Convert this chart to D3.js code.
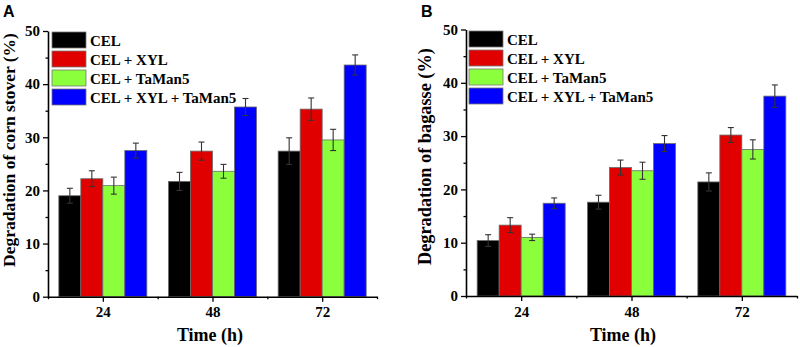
<!DOCTYPE html>
<html lang="en">
<head>
  <meta charset="UTF-8">
  <title>Degradation</title>
  <style>
    body { margin: 0; background: #fff; }
    text { font-family: "Liberation Serif", "Times New Roman", serif; font-weight: bold; }
  </style>
</head>
<body>
  <script src="https://d3js.org/d3.v7.min.js"></script>
  <div id="chart"></div>

  <script>
    // data =====================================================================
    const times = [24, 48, 72]
    const series = ['CEL', 'CEL + XYL', 'CEL + TaMan5', 'CEL + XYL + TaMan5']
    const colours = ['#000000', '#e00000', '#8cff3c', '#0000ff']

    // panel A - corn stover, values per series for 24/48/72 h
    const cornMean = [
      [19.0, 21.7, 27.4],
      [22.2, 27.4, 35.3],
      [20.9, 23.6, 29.5],
      [27.5, 35.7, 43.6]
    ]
    const cornErr = [
      [1.4, 1.7, 2.5],
      [1.5, 1.7, 2.1],
      [1.6, 1.3, 2.0],
      [1.4, 1.6, 1.9]
    ]

    // panel B - bagasse
    const bagMean = [
      [10.4, 17.6, 21.4],
      [13.3, 24.1, 30.2],
      [11.0, 23.5, 27.5],
      [17.4, 28.6, 37.5]
    ]
    const bagErr = [
      [1.1, 1.3, 1.7],
      [1.4, 1.4, 1.4],
      [0.6, 1.6, 1.8],
      [1.0, 1.5, 2.1]
    ]

    const yTicks = [0, 10, 20, 30, 40, 50]

    const svg = d3.select('#chart')
      .append('svg')
      .attr('width', 800)
      .attr('height', 347)

    function drawPanel(p) {
      const g = svg.append('g')

      const x = d3.scaleLinear().domain([12, 84]).range(p.xRange)
      const y = d3.scaleLinear().domain([0, 50]).range(p.yRange)
      const sub = d3.scaleBand().domain(series).range([-44, 44]).padding(0)

      // flatten into one row per bar
      const rows = []
      series.forEach((s, i) => {
        times.forEach((t, j) => {
          rows.push({s: s, i: i, t: t, v: p.mean[i][j], e: p.err[i][j]})
        })
      })

      // bars
      g.selectAll('rect.bar')
        .data(rows)
        .join('rect')
        .attr('class', 'bar')
        .attr('x', d => x(d.t) + sub(d.s))
        .attr('width', sub.bandwidth())
        .attr('y', d => y(d.v))
        .attr('height', d => y(0) - y(d.v))
        .style('fill', d => colours[d.i])
        .style('stroke', '#6a6a6a')
        .style('stroke-width', 0.8)

      // error bars
      const eb = g.selectAll('g.err')
        .data(rows)
        .join('g')
        .attr('class', 'err')
        .style('stroke', '#333')
        .style('stroke-width', 1.1)
      const cx = d => x(d.t) + sub(d.s) + sub.bandwidth() / 2
      eb.append('line')
        .attr('x1', cx).attr('x2', cx)
        .attr('y1', d => y(d.v + d.e)).attr('y2', d => y(d.v - d.e))
      eb.append('line')
        .attr('x1', d => cx(d) - 3).attr('x2', d => cx(d) + 3)
        .attr('y1', d => y(d.v + d.e)).attr('y2', d => y(d.v + d.e))
      eb.append('line')
        .attr('x1', d => cx(d) - 3).attr('x2', d => cx(d) + 3)
        .attr('y1', d => y(d.v - d.e)).attr('y2', d => y(d.v - d.e))

      // x axis, major + minor ticks
      const xAxis = g.append('g')
        .attr('transform', `translate(0, ${y(0)})`)
        .call(d3.axisBottom(x).tickValues(times).tickSize(5).tickPadding(5).tickSizeOuter(0))
      g.append('g')
        .attr('transform', `translate(0, ${y(0)})`)
        .call(d3.axisBottom(x).tickValues([12, 36, 60, 84]).tickSize(2.5).tickFormat('').tickSizeOuter(0))
        .select('.domain').remove()

      // y axis, major + minor ticks
      const yAxis = g.append('g')
        .attr('transform', `translate(${x(12)}, 0)`)
        .call(d3.axisLeft(y).tickValues(yTicks).tickSize(5).tickPadding(3).tickSizeOuter(0))
      g.append('g')
        .attr('transform', `translate(${x(12)}, 0)`)
        .call(d3.axisLeft(y).tickValues([5, 15, 25, 35, 45]).tickSize(2.5).tickFormat('').tickSizeOuter(0))
        .select('.domain').remove()

      g.selectAll('.domain').style('stroke-width', 1.6)
      g.selectAll('.tick line').style('stroke-width', 1.3)
      g.selectAll('.tick text')
        .style('font-family', '"Liberation Serif", serif')
        .style('font-weight', 'bold')
        .style('font-size', '15px')
        .style('fill', '#000')

      // axis titles
      g.append('text')
        .attr('x', p.xTitleX)
        .attr('y', 341)
        .attr('text-anchor', 'middle')
        .style('font-size', '18px')
        .text('Time (h)')

      g.append('text')
        .attr('transform', `translate(${p.yTitleX}, ${p.yTitleY}) rotate(-90)`)
        .attr('text-anchor', 'start')
        .style('font-size', p.yTitleSize + 'px')
        .text(p.yTitle)

      // panel letter
      g.append('text')
        .attr('x', p.letterX)
        .attr('y', 17)
        .style('font-family', '"Liberation Sans", Arial, sans-serif')
        .style('font-size', '16px')
        .text(p.letter)

      // legend
      const lg = g.selectAll('g.leg')
        .data(series)
        .join('g')
        .attr('class', 'leg')
        .attr('transform', (d, i) => `translate(${p.legX}, ${p.legY + i * 19})`)
      lg.append('rect')
        .attr('width', 34)
        .attr('height', 16)
        .style('fill', (d, i) => colours[i])
        .style('stroke', '#777')
        .style('stroke-width', 0.8)
      lg.append('text')
        .attr('x', 38)
        .attr('y', 14)
        .style('font-size', '15px')
        .text(d => d)
    }

    drawPanel({
      letter: 'A', letterX: 3,
      mean: cornMean, err: cornErr,
      xRange: [48, 377], yRange: [296.7, 31],
      xTitleX: 210,
      yTitle: 'Degradation of corn stover (%)', yTitleX: 15, yTitleY: 267, yTitleSize: 17.5,
      legX: 52, legY: 32
    })

    drawPanel({
      letter: 'B', letterX: 421,
      mean: bagMean, err: bagErr,
      xRange: [466, 797], yRange: [296, 29.5],
      xTitleX: 623,
      yTitle: 'Degradation of bagasse (%)', yTitleX: 431, yTitleY: 265, yTitleSize: 18.3,
      legX: 469, legY: 31
    })
  </script>
</body>
</html>
